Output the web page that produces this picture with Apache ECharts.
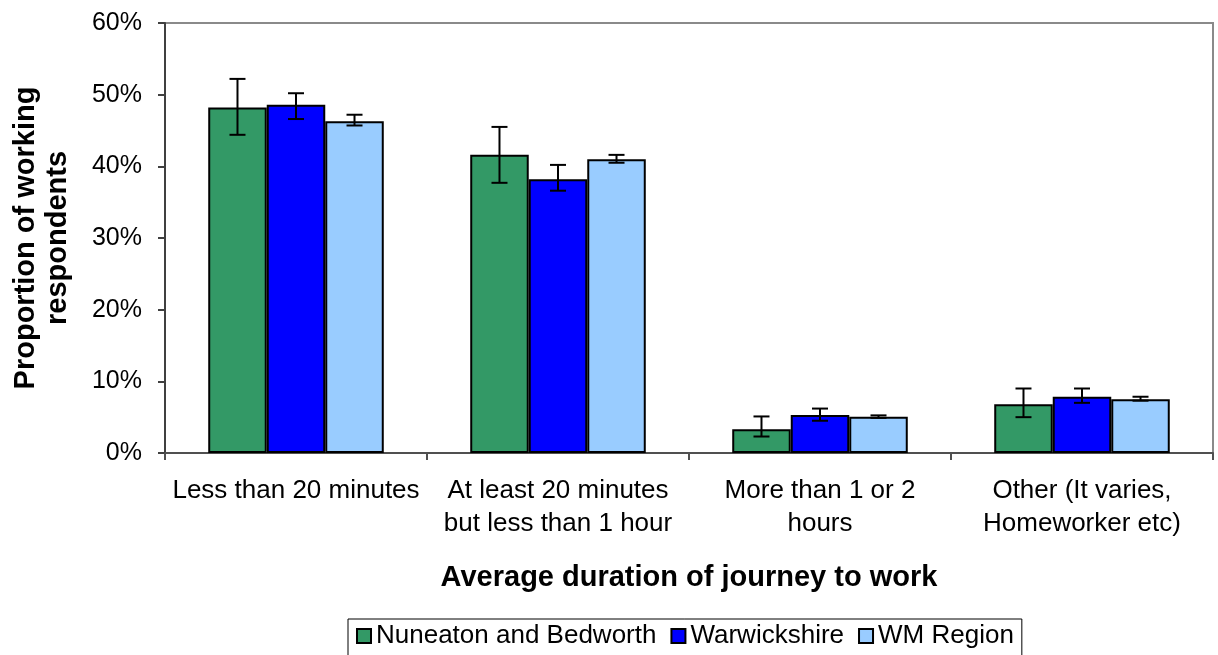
<!DOCTYPE html>
<html>
<head>
<meta charset="utf-8">
<script src="https://cdn.jsdelivr.net/npm/echarts@6/dist/echarts.min.js"></script>
<style>
html,body{margin:0;padding:0;background:#fff;}
#chart{width:1218px;height:655px;}
</style>
</head>
<body>
<div id="chart"></div>
<script>
const categories = [
  'Less than 20 minutes',
  'At least 20 minutes\nbut less than 1 hour',
  'More than 1 or 2\nhours',
  'Other (It varies,\nHomeworker etc)'
];
const seriesNames = ['Nuneaton and Bedworth', 'Warwickshire', 'WM Region'];
const nuneatonValues = [48.2, 41.6, 3.3, 6.8];
const nuneatonLow    = [44.4, 37.7, 2.3, 5.0];
const nuneatonHigh   = [52.2, 45.5, 5.1, 9.0];
const warwickValues  = [48.6, 38.2, 5.3, 7.85];
const warwickLow     = [46.6, 36.6, 4.5, 7.0];
const warwickHigh    = [50.2, 40.2, 6.2, 9.0];
const wmValues       = [46.3, 41.0, 5.05, 7.5];
const wmLow          = [45.7, 40.5, 4.9, 7.3];
const wmHigh         = [47.2, 41.6, 5.25, 7.85];
const yTicks = { min: 0, max: 60, interval: 10 };

const colors = ['#339966', '#0000FF', '#99CCFF'];
const GAP = 0.33;
const FONT = "'Liberation Sans', Arial, sans-serif";

const chart = echarts.init(document.getElementById('chart'));

function barSeries(i, vals) {
  return {
    name: seriesNames[i],
    type: 'bar',
    data: vals,
    barGap: '0%',
    barCategoryGap: (GAP * 100) + '%',
    itemStyle: { color: colors[i], borderColor: '#000', borderWidth: 2 },
    emphasis: { disabled: true },
    z: 2
  };
}

function errSeries(i, lows, highs) {
  return {
    name: seriesNames[i] + ' err',
    type: 'custom',
    silent: true,
    z: 10,
    data: lows.map((l, k) => [k, l, highs[k]]),
    encode: { x: 0, y: [1, 2] },
    renderItem: function (params, api) {
      const idx = api.value(0);
      const lo = api.coord([idx, api.value(1)]);
      const hi = api.coord([idx, api.value(2)]);
      const catW = api.size([1, 0])[0];
      const barW = catW * (1 - GAP) / 3;
      const x = lo[0] + (i - 1) * barW;
      const h = 8;
      const st = { stroke: '#000', lineWidth: 2 };
      return {
        type: 'group',
        children: [
          { type: 'line', shape: { x1: x, y1: hi[1], x2: x, y2: lo[1] }, style: st },
          { type: 'line', shape: { x1: x - h, y1: hi[1], x2: x + h, y2: hi[1] }, style: st },
          { type: 'line', shape: { x1: x - h, y1: lo[1], x2: x + h, y2: lo[1] }, style: st }
        ]
      };
    }
  };
}

chart.setOption({
  animation: false,
  textStyle: { fontFamily: FONT, color: '#000' },
  grid: {
    left: 165, top: 23, right: 5, bottom: 202,
    show: true, borderColor: '#8a8a8a', borderWidth: 2, backgroundColor: 'transparent'
  },
  legend: {
    data: seriesNames,
    left: 348, top: 619,
    orient: 'horizontal',
    itemWidth: 14, itemHeight: 14, itemGap: 14,
    padding: [4, 8, 8, 8],
    borderColor: '#000', borderWidth: 1,
    icon: 'rect',
    textStyle: { fontFamily: FONT, fontSize: 26, color: '#000' },
    selectedMode: false
  },
  xAxis: {
    type: 'category',
    data: categories,
    axisLine: { lineStyle: { color: '#505050', width: 2 } },
    axisTick: { show: true, length: 7, lineStyle: { color: '#505050', width: 2 } },
    axisLabel: { fontFamily: FONT, fontSize: 26, color: '#000', margin: 21, lineHeight: 33, interval: 0 },
    name: 'Average duration of journey to work',
    nameLocation: 'middle',
    nameGap: 110,
    nameTextStyle: { fontFamily: FONT, fontSize: 29, fontWeight: 'bold', color: '#000' },
    splitLine: { show: false }
  },
  yAxis: {
    type: 'value',
    min: yTicks.min, max: yTicks.max, interval: yTicks.interval,
    axisLine: { show: true, lineStyle: { color: '#404040', width: 2 } },
    axisTick: { show: true, length: 7, lineStyle: { color: '#404040', width: 2 } },
    axisLabel: { fontFamily: FONT, fontSize: 25, color: '#000', margin: 23, formatter: '{value}%' },
    splitLine: { show: false },
    name: 'Proportion of working\nrespondents',
    nameLocation: 'middle',
    nameGap: 91,
    nameTextStyle: { fontFamily: FONT, fontSize: 29, fontWeight: 'bold', color: '#000', lineHeight: 32 }
  },
  series: [
    barSeries(0, nuneatonValues),
    barSeries(1, warwickValues),
    barSeries(2, wmValues),
    errSeries(0, nuneatonLow, nuneatonHigh),
    errSeries(1, warwickLow, warwickHigh),
    errSeries(2, wmLow, wmHigh)
  ]
});
</script>
</body>
</html>
